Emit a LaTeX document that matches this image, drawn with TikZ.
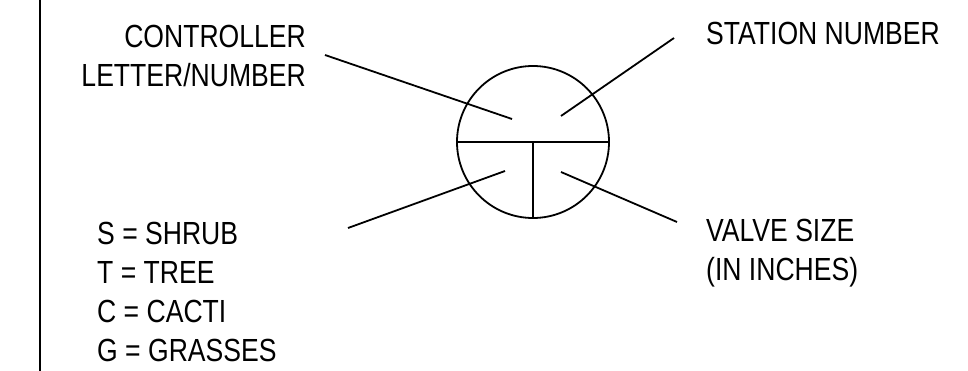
\documentclass[tikz,border=0pt]{standalone}
\usepackage{fontspec}
\setmainfont{Liberation Sans}[FakeStretch=0.83]
\usetikzlibrary{positioning}

\tikzset{
    label text/.style={font=\fontsize{32}{39}\selectfont, inner sep=0pt},
    leader/.style={line width=1.8pt}
}

\begin{document}
\begin{tikzpicture}[x=1pt, y=-1pt]
    \useasboundingbox (0,0) rectangle (968,371);

    % Margin line
    \draw[line width=2.6pt] (40,0) -- (40,371);

    % Valve symbol
    \node[circle, draw, line width=1.8pt, minimum size=152pt, inner sep=0pt] (valve) at (533,142) {};
    \draw[leader] (valve.west) -- (valve.east);
    \draw[leader] (valve.center) -- (valve.south);

    % Labels (multi-line nodes sit on their last line)
    \node[label text, anchor=base east, align=right] (ctl) at (306,87) {CONTROLLER\\LETTER/NUMBER};
    \node[label text, anchor=base west] (sta) at (706,45) {STATION NUMBER};
    \node[label text, anchor=base west, align=left] (size) at (706,280) {VALVE SIZE\\(IN INCHES)};
    \node[label text, anchor=base west, align=left] (plant) at (97,361) {S = SHRUB\\T = TREE\\C = CACTI\\G = GRASSES};

    % Leader lines
    \coordinate (ctl tip) at (325,55);
    \coordinate (ctl end) at (512,119);
    \coordinate (sta tip) at (674,38);
    \coordinate (sta end) at (561,116);
    \coordinate (plant tip) at (348,228);
    \coordinate (plant end) at (505,171);
    \coordinate (size tip) at (677,222);
    \coordinate (size end) at (561,172);
    \draw[leader] (ctl tip) -- (ctl end);
    \draw[leader] (sta tip) -- (sta end);
    \draw[leader] (plant tip) -- (plant end);
    \draw[leader] (size tip) -- (size end);
\end{tikzpicture}
\end{document}
